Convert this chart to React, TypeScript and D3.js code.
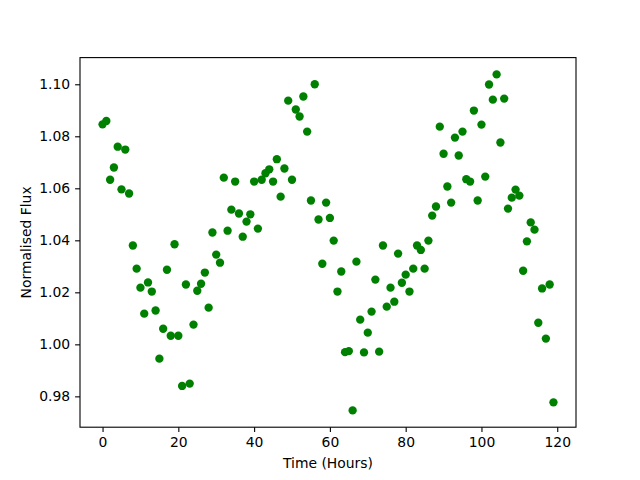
import React, { useEffect, useRef } from 'react';
import * as d3 from 'd3';

// hourly samples
const hours = d3.range(0, 120);
const flux = [
  1.0846, 1.0859, 1.0633, 1.068, 1.076, 1.0596, 1.0749, 1.058, 1.038, 1.0291,
  1.0218, 1.0118, 1.0238, 1.0203, 1.013, 0.9945, 1.006, 1.0287, 1.0033, 1.0385,
  1.0033, 0.984, 1.023, 0.9849, 1.0076, 1.0206, 1.0233, 1.0276, 1.0141, 1.043,
  1.0345, 1.0314, 1.0641, 1.0437, 1.0518, 1.0626, 1.0503, 1.0414, 1.0472, 1.05,
  1.0626, 1.0445, 1.0633, 1.0658, 1.0673, 1.0626, 1.0712, 1.0568, 1.0676, 1.0937,
  1.0633, 1.0903, 1.0876, 1.0953, 1.0818, 1.0553, 1.1, 1.048, 1.031, 1.0545,
  1.0486, 1.0399, 1.0203, 1.028, 0.997, 0.9974, 0.9746, 1.0318, 1.0095, 0.9969,
  1.0045, 1.0126, 1.0249, 0.9972, 1.038, 1.0145, 1.0218, 1.0164, 1.0349, 1.0237,
  1.0268, 1.0203, 1.0291, 1.038, 1.0363, 1.0291, 1.0399, 1.0495, 1.053, 1.0837,
  1.0733, 1.0607, 1.0545, 1.0795, 1.0726, 1.0818, 1.0635, 1.0626, 1.0899, 1.0553,
  1.0845, 1.0645, 1.0999, 1.0941, 1.1038, 1.0776, 1.0945, 1.0522, 1.0564, 1.0595,
  1.0572, 1.0283, 1.0396, 1.0469, 1.0441, 1.0083, 1.0215, 1.0022, 1.023, 0.9777,
];
const xTicks = [0, 20, 40, 60, 80, 100, 120];
const yTicks = [0.98, 1.0, 1.02, 1.04, 1.06, 1.08, 1.1];

const App = () => {
  const ref = useRef<SVGSVGElement>(null);

  useEffect(() => {
    if (!ref.current) return;
    const svg = d3.select(ref.current);
    svg.selectAll('*').remove();

    const width = 640;
    const height = 480;
    const left = 80, right = 576, top = 57.6, bottom = 427.2;
    const font = 'DejaVu Sans, sans-serif';

    // matplotlib style 5% margins
    const xPad = (d3.max(hours)! - d3.min(hours)!) * 0.05;
    const [yMin, yMax] = d3.extent(flux) as [number, number];
    const yPad = (yMax - yMin) * 0.05;

    const x = d3.scaleLinear()
      .domain([d3.min(hours)! - xPad, d3.max(hours)! + xPad])
      .range([left, right]);
    const y = d3.scaleLinear()
      .domain([yMin - yPad, yMax + yPad])
      .range([bottom, top]);

    svg.append('rect')
      .attr('width', width)
      .attr('height', height)
      .attr('fill', 'white');

    // points
    svg.append('g')
      .selectAll('circle')
      .data(hours)
      .enter()
      .append('circle')
      .attr('cx', d => x(d))
      .attr('cy', (d, i) => y(flux[i]))
      .attr('r', 4.17)
      .attr('fill', '#008000');

    // frame
    svg.append('rect')
      .attr('x', left)
      .attr('y', top)
      .attr('width', right - left)
      .attr('height', bottom - top)
      .attr('fill', 'none')
      .attr('stroke', 'black')
      .attr('stroke-width', 1.1);

    const xAxis = svg.append('g')
      .attr('transform', `translate(0,${bottom})`)
      .call(d3.axisBottom(x).tickValues(xTicks).tickSize(4.9).tickPadding(4.9).tickFormat(d3.format('d')));
    const yAxis = svg.append('g')
      .attr('transform', `translate(${left},0)`)
      .call(d3.axisLeft(y).tickValues(yTicks).tickSize(4.9).tickPadding(4.9).tickFormat(d3.format('.2f')));

    [xAxis, yAxis].forEach(g => {
      g.select('.domain').remove();
      g.selectAll('line').attr('stroke', 'black').attr('stroke-width', 1.1);
      g.selectAll('text')
        .attr('fill', 'black')
        .style('font-family', font)
        .style('font-size', '13.9px');
    });

    svg.append('text')
      .attr('x', (left + right) / 2)
      .attr('y', 468)
      .attr('text-anchor', 'middle')
      .style('font-family', font)
      .style('font-size', '13.9px')
      .text('Time (Hours)');

    svg.append('text')
      .attr('transform', `translate(31,${(top + bottom) / 2}) rotate(-90)`)
      .attr('text-anchor', 'middle')
      .style('font-family', font)
      .style('font-size', '13.9px')
      .text('Normalised Flux');
  }, []);

  return (
    <div style={{ position: 'fixed', left: 0, top: 0 }}>
      <svg ref={ref} width={640} height={480} style={{ display: 'block' }} />
    </div>
  );
};

export default App;
